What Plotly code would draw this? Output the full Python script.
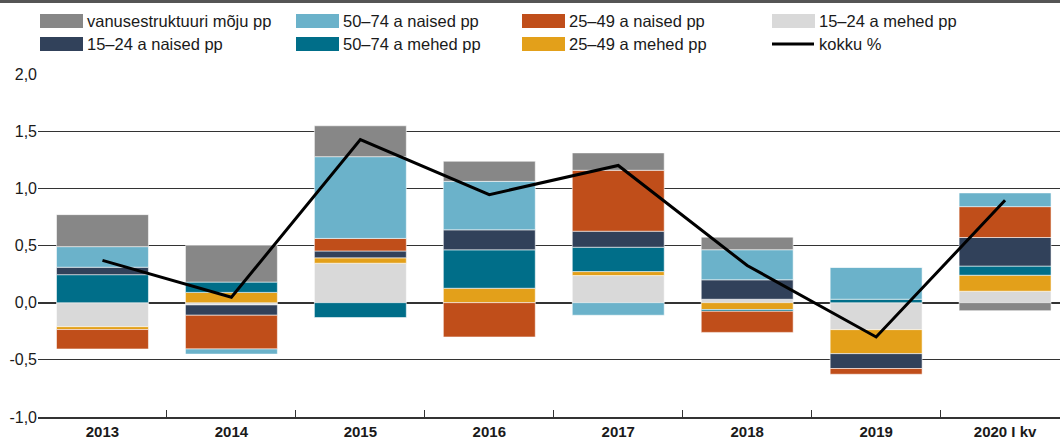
"""Stacked contributions by age/sex group with total line."""

import plotly.graph_objects as go

years = ["2013", "2014", "2015", "2016", "2017", "2018", "2019", "2020 I kv"]

mehed_15_24 = [-0.21, -0.02, 0.345, 0.0, 0.237, 0.03, -0.236, 0.10]
mehed_25_49 = [-0.025, 0.09, 0.047, 0.126, 0.035, -0.06, -0.21, 0.14]
mehed_50_74 = [0.245, 0.09, -0.13, 0.336, 0.213, -0.015, 0.03, 0.08]
naised_15_24 = [0.065, -0.09, 0.06, 0.175, 0.14, 0.17, -0.13, 0.25]
naised_25_49 = [-0.17, -0.295, 0.11, -0.30, 0.533, -0.185, -0.05, 0.27]
naised_50_74 = [0.18, -0.045, 0.715, 0.424, -0.11, 0.263, 0.28, 0.12]
vanusestruktuur = [0.28, 0.32, 0.27, 0.176, 0.152, 0.11, 0.0, -0.07]
kokku = [0.37, 0.047, 1.427, 0.945, 1.20, 0.325, -0.30, 0.895]

y_ticks = [-1.0, -0.5, 0.0, 0.5, 1.0, 1.5, 2.0]
y_ticktext = ["-1,0", "-0,5", "0,0", "0,5", "1,0", "1,5", "2,0"]

_FONT = "Liberation Sans, Arial, sans-serif"
_GRID = "#333333"

C_GRAY = "#878787"
C_LBLUE = "#6BB2CA"
C_ORANGE = "#C04E1A"
C_LGRAY = "#D9D9D9"
C_NAVY = "#31415A"
C_TEAL = "#006E89"
C_YELLOW = "#E3A01A"

# stacking order (bottom to top / zero downwards)
series = [
    ("15–24 a mehed pp", mehed_15_24, C_LGRAY),
    ("25–49 a mehed pp", mehed_25_49, C_YELLOW),
    ("50–74 a mehed pp", mehed_50_74, C_TEAL),
    ("15–24 a naised pp", naised_15_24, C_NAVY),
    ("25–49 a naised pp", naised_25_49, C_ORANGE),
    ("50–74 a naised pp", naised_50_74, C_LBLUE),
    ("vanusestruktuuri mõju pp", vanusestruktuur, C_GRAY),
]

W, H = 1060, 441
L, R, T, B = 38, 0, 74, 24
PW, PH = W - L - R, H - T - B


def px_x(p):
    return (p - L) / PW


def px_y(p):
    return (H - B - p) / PH


fig = go.Figure()
for name, vals, col in series:
    fig.add_trace(
        go.Bar(
            x=years, y=vals, name=name, marker_color=col,
            marker_line=dict(color="rgba(255,255,255,0.55)", width=1),
            showlegend=False,
        )
    )
fig.add_trace(
    go.Scatter(
        x=years, y=kokku, name="kokku %", mode="lines",
        line=dict(color="black", width=3), showlegend=False,
    )
)

# legend drawn by hand: large swatches in a 4x2 grid
legend_items = [
    ("vanusestruktuuri mõju pp", C_GRAY, 40, 21),
    ("50–74 a naised pp", C_LBLUE, 296, 21),
    ("25–49 a naised pp", C_ORANGE, 522, 21),
    ("15–24 a mehed pp", C_LGRAY, 772, 21),
    ("15–24 a naised pp", C_NAVY, 40, 44),
    ("50–74 a mehed pp", C_TEAL, 296, 44),
    ("25–49 a mehed pp", C_YELLOW, 522, 44),
    ("kokku %", None, 772, 44),
]
shapes = [
    dict(type="rect", xref="paper", yref="paper", x0=px_x(0), x1=px_x(W),
         y0=px_y(3), y1=px_y(0), fillcolor="#555555",
         line=dict(width=0), layer="above")
]
annotations = []
for text, col, x, yc in legend_items:
    if col is None:
        shapes.append(dict(type="line", xref="paper", yref="paper",
                           x0=px_x(x), x1=px_x(x + 42), y0=px_y(yc), y1=px_y(yc),
                           line=dict(color="black", width=3)))
    else:
        shapes.append(dict(type="rect", xref="paper", yref="paper",
                           x0=px_x(x), x1=px_x(x + 43), y0=px_y(yc + 7), y1=px_y(yc - 7),
                           fillcolor=col, line=dict(width=0)))
    annotations.append(dict(text=text, xref="paper", yref="paper", x=px_x(x + 45),
                            y=px_y(yc), xanchor="left", yanchor="middle", showarrow=False,
                            font=dict(family=_FONT, size=16.5, color="#1a1a1a")))

fig.update_layout(
    width=W, height=H,
    margin=dict(l=L, r=R, t=T, b=B, autoexpand=False),
    paper_bgcolor="white", plot_bgcolor="white",
    barmode="relative", bargap=0.287,
    font=dict(family=_FONT, size=16, color="#1a1a1a"),
    shapes=shapes, annotations=annotations,
    showlegend=False,
)
fig.update_xaxes(
    range=[-0.5, 7.426], showgrid=False, automargin=False,
    showline=True, linecolor=_GRID, linewidth=1.5,
    ticks="inside", tickson="boundaries", ticklen=7, tickcolor=_GRID, tickwidth=1.2,
    tickfont=dict(family=_FONT, size=15, weight="bold", color="#1a1a1a"),
    ticklabelstandoff=0,
)
fig.update_yaxes(
    range=[-1.0, 2.0], tickvals=y_ticks, ticktext=y_ticktext, automargin=False,
    showgrid=True, gridcolor=_GRID, gridwidth=1.3,
    zeroline=True, zerolinecolor=_GRID, zerolinewidth=1.5,
    showline=False, ticks="",
    tickfont=dict(family=_FONT, size=16, color="#1a1a1a"),
)

# the page's default body margin would shift the figure by 8px
fig.write_html(
    "out.html",
    config={"displayModeBar": False},
    post_script="document.body.style.margin='0';",
)
